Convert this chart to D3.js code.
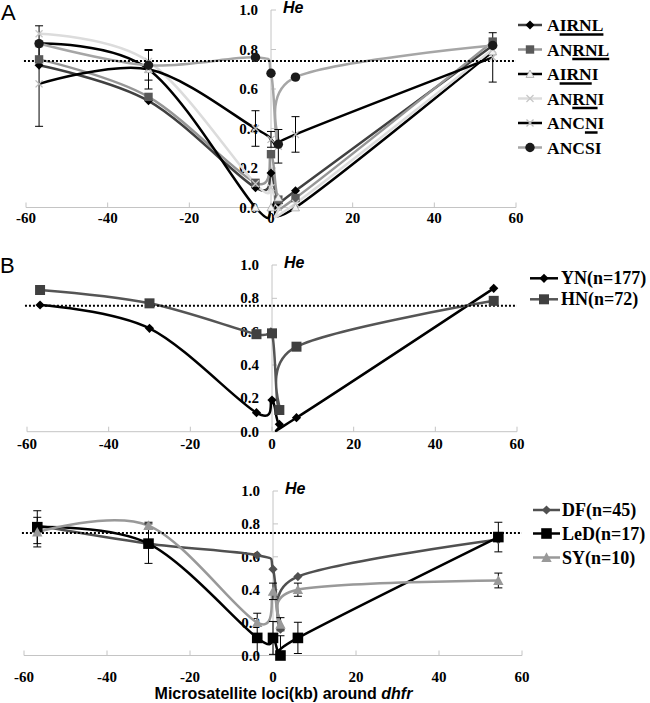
<!DOCTYPE html>
<html><head><meta charset="utf-8">
<script src="https://cdn.jsdelivr.net/npm/d3@7"></script>
<style>body{margin:0;background:#fff}svg{display:block}</style>
</head><body>
<svg id="c" width="650" height="703"></svg>
<script>
// ---------- DATA ----------
const loci = [-56.8, -30, -3.8, 0, 1.8, 6, 54.3];      // kb around dhfr
const xTicks = [-60, -40, -20, 0, 20, 40, 60];
const yTicks = [0, 0.2, 0.4, 0.6, 0.8, 1.0];
const thresholdA = 0.742, thresholdB = 0.755, thresholdC = 0.745;

// Panel A
const aAIRNL = [0.72, 0.54, 0.10, 0.175, 0.02, 0.085, 0.82];
const aANRNL = [0.75, 0.56, 0.125, 0.27, 0.04, 0.048, 0.84];
const aAIRNI = [0.83, 0.70, 0.0, 0.0, 0.05, 0.0, 0.79];
const aANRNI = [0.88, 0.74, 0.12, 0.10, 0.0, 0.02, 0.80];
const aANCNI = [0.626, 0.70, 0.40, 0.345, 0.31, 0.37, 0.76];
const aANCSI = [0.83, 0.72, 0.76, 0.68, 0.32, 0.66, 0.82];
const eANCNI = [0.215, 0.10, 0.09, 0.04, 0.085, 0.09, 0.125];
const eANCSI = [0.09, 0.075, null, null, null, null, null];

// Panel B
const bYN = [0.76, 0.62, 0.114, 0.19, 0.044, 0.084, 0.86];
const bHN = [0.85, 0.77, 0.585, 0.59, 0.13, 0.51, 0.785];

// Panel C
const cDF  = [0.79, 0.68, 0.61, 0.525, 0.16, 0.48, 0.705];
const cLeD = [0.78, 0.68, 0.107, 0.107, 0.0, 0.107, 0.72];
const cSY  = [0.75, 0.79, 0.20, 0.39, 0.19, 0.40, 0.456];
const eLeD = [0.10, 0.12, 0.15, 0.10, 0.12, 0.095, 0.09];
const eSY  = [0.09, 0.02, null, 0.05, 0.04, 0.04, 0.045];

// ---------- DRAW ----------
const svg = d3.select('#c');
const SERIF = '"Liberation Serif","Times New Roman",Times,serif';
const SANS = '"Liberation Sans",Arial,Helvetica,sans-serif';

function markerPath(type, r) {
  switch (type) {
    case 'diamond': return `M0,${-r}L${r},0L0,${r}L${-r},0Z`;
    case 'square': return `M${-r},${-r}h${2*r}v${2*r}h${-2*r}Z`;
    case 'triangle': return `M0,${-r}L${r},${r*0.85}L${-r},${r*0.85}Z`;
    case 'circle': return d3.symbol(d3.symbolCircle, Math.PI*r*r)();
    case 'x': return `M${-r},${-r}L${r},${r}M${-r},${r}L${r},${-r}`;
  }
}
function drawMarker(g, s, x, y) {
  const p = g.append('path').attr('d', markerPath(s.marker, s.mr))
    .attr('transform', `translate(${x},${y})`);
  if (s.marker === 'x') p.attr('fill', 'none').attr('stroke', s.mfill).attr('stroke-width', 1.3);
  else p.attr('fill', s.mfill).attr('stroke', s.mstroke || 'none').attr('stroke-width', s.mstroke ? 0.7 : 0);
}

const panels = [
  { letter: 'A', lx: 1, ly: 20, xr: [26, 516], yr: [207.5, 10], thr: thresholdA, labY: 223,
    legend: { x1: 518, x2: 542, tx: 547, ys: [25, 49.5, 74, 98.5, 123, 147.5], fs: 17.5 },
    series: [
      { name: 'AIRNL', v: aAIRNL, color: '#404040', marker: 'diamond', mr: 4.5, mfill: '#000', ul: [1, 4] },
      { name: 'ANRNL', v: aANRNL, color: '#969696', marker: 'square', mr: 4.2, mfill: '#595959', ul: [2, 4] },
      { name: 'AIRNI', v: aAIRNI, color: '#000', marker: 'triangle', mr: 4, mfill: '#f2f2f2', mstroke: '#999', ul: [1, 3] },
      { name: 'ANRNI', v: aANRNI, color: '#dcdcdc', marker: 'x', mr: 3.5, mfill: '#c8c8c8', ul: [2, 3] },
      { name: 'ANCNI', v: aANCNI, color: '#000', marker: 'x', mr: 3.5, mfill: '#bbbbbb', err: eANCNI, ul: [3, 3] },
      { name: 'ANCSI', v: aANCSI, color: '#a6a6a6', marker: 'circle', mr: 4.7, mfill: '#1a1a1a', err: eANCSI }
    ] },
  { letter: 'B', lx: 0, ly: 273, xr: [27, 517], yr: [431.7, 265], thr: thresholdB, labY: 449,
    legend: { x1: 530, x2: 558, tx: 561, ys: [278.3, 299.3], fs: 18 },
    series: [
      { name: 'YN(n=177)', v: bYN, color: '#000', marker: 'diamond', mr: 4.6, mfill: '#000' },
      { name: 'HN(n=72)', v: bHN, color: '#555555', marker: 'square', mr: 5, mfill: '#404040' }
    ] },
  { letter: null, xr: [24, 522], yr: [655.5, 491], thr: thresholdC, labY: 682,
    legend: { x1: 533, x2: 560, tx: 562, ys: [510, 533.5, 557.5], fs: 18 },
    series: [
      { name: 'DF(n=45)', v: cDF, color: '#505050', marker: 'diamond', mr: 4.6, mfill: '#505050' },
      { name: 'LeD(n=17)', v: cLeD, color: '#000', marker: 'square', mr: 5.3, mfill: '#000', err: eLeD },
      { name: 'SY(n=10)', v: cSY, color: '#999999', marker: 'triangle', mr: 5.2, mfill: '#999999', err: eSY }
    ] }
];

panels.forEach(P => {
  const x = d3.scaleLinear().domain([-60, 60]).range(P.xr);
  const y = d3.scaleLinear().domain([0, 1]).range(P.yr);
  const g = svg.append('g');

  // axes
  g.append('line').attr('x1', x(-60)).attr('x2', x(60)).attr('y1', y(0)).attr('y2', y(0))
    .attr('stroke', '#c4c4c4').attr('stroke-width', 1);
  xTicks.forEach(t => {
    g.append('line').attr('x1', x(t)).attr('x2', x(t)).attr('y1', y(0)).attr('y2', y(0) - 5)
      .attr('stroke', '#c4c4c4').attr('stroke-width', 1);
    g.append('text').attr('x', x(t)).attr('y', P.labY).attr('text-anchor', 'middle')
      .attr('font-family', SERIF).attr('font-weight', 'bold').attr('font-size', 15).text(String(t).replace('−','-'));
  });
  g.append('line').attr('x1', x(0)).attr('x2', x(0)).attr('y1', y(0)).attr('y2', y(1))
    .attr('stroke', '#c4c4c4').attr('stroke-width', 1);
  yTicks.forEach(t => {
    g.append('line').attr('x1', x(0)).attr('x2', x(0) + 5).attr('y1', y(t)).attr('y2', y(t))
      .attr('stroke', '#c4c4c4').attr('stroke-width', 1);
    g.append('text').attr('x', x(0) - 13).attr('y', y(t) + 5).attr('text-anchor', 'end')
      .attr('font-family', SERIF).attr('font-weight', 'bold').attr('font-size', 15).text(t.toFixed(1));
  });
  g.append('text').attr('x', x(0) + 12).attr('y', y(1) + 3)
    .attr('font-family', SANS).attr('font-weight', 'bold').attr('font-style', 'italic')
    .attr('font-size', 16).text('He');
  if (P.letter) g.append('text').attr('x', P.lx).attr('y', P.ly).attr('font-family', SANS)
    .attr('font-size', 22).text(P.letter);

  // lines (Excel-like smoothing)
  const line = d3.line().x((d, i) => x(loci[i])).y(d => y(d)).curve(d3.curveCardinal.tension(0));
  P.series.forEach(s => {
    g.append('path').attr('d', line(s.v)).attr('fill', 'none').attr('stroke', s.color)
      .attr('stroke-width', 2.5).attr('stroke-linejoin', 'round');
  });
  // threshold dotted line
  g.append('line').attr('x1', x(-60.5)).attr('x2', x(60)).attr('y1', y(P.thr)).attr('y2', y(P.thr))
    .attr('stroke', '#000').attr('stroke-width', 2).attr('stroke-dasharray', '2,2');
  // error bars
  P.series.forEach(s => {
    if (!s.err) return;
    s.err.forEach((e, i) => {
      if (e == null) return;
      const cx = x(loci[i]);
      const lo = Math.max(0, s.v[i] - e), hi = s.v[i] + e;
      g.append('line').attr('x1', cx).attr('x2', cx).attr('y1', y(lo)).attr('y2', y(hi))
        .attr('stroke', '#000').attr('stroke-width', 1);
      g.append('line').attr('x1', cx - 4).attr('x2', cx + 4).attr('y1', y(hi)).attr('y2', y(hi))
        .attr('stroke', '#000').attr('stroke-width', 1);
      if (s.v[i] - e >= 0)
        g.append('line').attr('x1', cx - 4).attr('x2', cx + 4).attr('y1', y(lo)).attr('y2', y(lo))
          .attr('stroke', '#000').attr('stroke-width', 1);
    });
  });
  // markers
  P.series.forEach(s => {
    s.v.forEach((d, i) => drawMarker(g, s, x(loci[i]), y(d)));
  });

  // legend
  const L = P.legend;
  P.series.forEach((s, k) => {
    const ry = L.ys[k];
    g.append('line').attr('x1', L.x1).attr('x2', L.x2).attr('y1', ry).attr('y2', ry)
      .attr('stroke', s.color).attr('stroke-width', 2.5);
    drawMarker(g, s, (L.x1 + L.x2) / 2, ry);
    const t = g.append('text').attr('x', L.tx).attr('y', ry + 6)
      .attr('font-family', SERIF).attr('font-weight', 'bold').attr('font-size', L.fs).text(s.name);
    if (s.ul) {
      const n = t.node();
      const x0 = n.getStartPositionOfChar(s.ul[0]).x;
      const x1 = n.getEndPositionOfChar(s.ul[1]).x;
      g.append('line').attr('x1', x0).attr('x2', x1).attr('y1', ry + 9.5).attr('y2', ry + 9.5)
        .attr('stroke', '#000').attr('stroke-width', 2.5);
    }
  });
});

// x-axis title
const title = svg.append('text').attr('x', 283.5).attr('y', 699).attr('text-anchor', 'middle')
  .attr('font-family', SANS).attr('font-weight', 'bold').attr('font-size', 16);
title.append('tspan').text('Microsatellite loci(kb) around ');
title.append('tspan').attr('font-style', 'italic').text('dhfr');
</script>
</body></html>
